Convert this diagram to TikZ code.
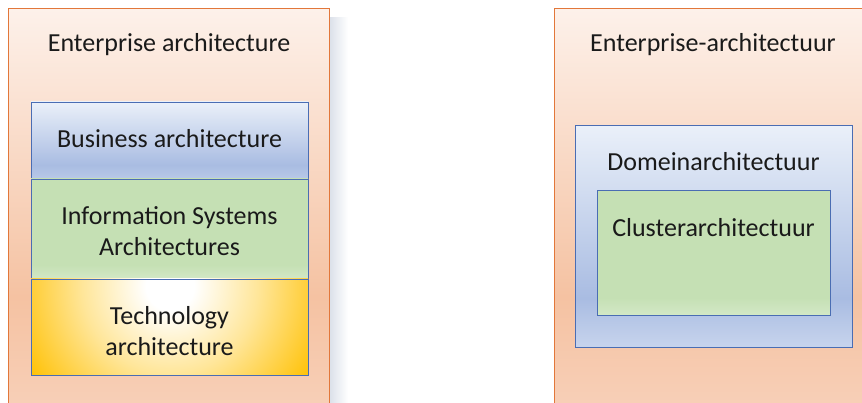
\documentclass[tikz,border=0pt]{standalone}
\usepackage{fontspec}
\setmainfont{Carlito}
\definecolor{ink}{HTML}{1A1A1A}
\definecolor{peachtop}{HTML}{FDF1EA}
\definecolor{peachmid}{HTML}{F5C2A2}
\definecolor{peachbot}{HTML}{F8D1BA}
\definecolor{orangeline}{HTML}{E2773A}
\definecolor{blueline}{HTML}{4A6DB3}
\definecolor{bluetop}{HTML}{EAF0F9}
\definecolor{bluemid}{HTML}{A9BCE2}
\definecolor{bluebot}{HTML}{B9C9E8}
\definecolor{greenfill}{HTML}{C5E0B4}
\definecolor{greenlight}{HTML}{D3E8C6}
\definecolor{gold}{HTML}{FFC000}
\definecolor{shadowgray}{HTML}{DCE1EA}

% vertical shadings: 25bp = bottom of the shape, 75bp = top
\pgfdeclareverticalshading{peachfill}{100bp}{color(0bp)=(peachbot); color(25bp)=(peachbot);
  color(40bp)=(peachmid); color(75bp)=(peachtop); color(100bp)=(peachtop)}
\pgfdeclareverticalshading{businessfill}{100bp}{color(0bp)=(bluebot); color(25bp)=(bluebot);
  color(34bp)=(bluemid); color(75bp)=(bluetop); color(100bp)=(bluetop)}
\pgfdeclareverticalshading{domainfill}{100bp}{color(0bp)=(bluebot!80!white); color(25bp)=(bluebot!80!white);
  color(36bp)=(bluemid); color(75bp)=(bluetop); color(100bp)=(bluetop)}
\pgfdeclareverticalshading{greenfill}{100bp}{color(0bp)=(greenlight); color(25bp)=(greenlight);
  color(32bp)=(greenfill); color(75bp)=(greenfill); color(100bp)=(greenfill)}
% radial glow, white in the middle fading to gold
\pgfdeclareradialshading{techglow}{\pgfpoint{0bp}{0bp}}{color(0bp)=(white); color(3bp)=(white);
  color(11bp)=(gold!40!white); color(21bp)=(gold); color(50bp)=(gold)}

\tikzset{
  label text/.style={text=ink, font=\fontsize{26}{31}\selectfont, align=center, inner sep=0pt},
  outerbox/.style={draw=orangeline, line width=1pt, shading=peachfill},
  layerbox/.style={draw=blueline, line width=0.8pt},
}

\begin{document}
\begin{tikzpicture}[x=1pt, y=-1pt]
  \useasboundingbox (0,0) rectangle (862,403);
  \clip (0,0) rectangle (862,403);
  \fill[white] (0,0) rectangle (862,403);

  % soft shadow on the right of the left panel
  \shade[left color=shadowgray, right color=white] (330,18) rectangle (348,410);

  % left panel: TOGAF layers
  \draw[outerbox] (8.5,8.5) rectangle (329.5,420);
  \node[label text] (ea) at (169,45) {Enterprise architecture};

  \draw[layerbox, shading=businessfill] (31,102) rectangle (308,179);
  \node[label text] (ba) at (169.5,139) {Business architecture};

  \draw[layerbox, shading=greenfill] (31,179) rectangle (308,279);
  \node[label text] (isa) at (169.5,231) {Information Systems\\Architectures};

  \begin{scope}
    \clip (31,279) rectangle (308,375);
    \shade[shading=techglow] (170,286) circle (200);
  \end{scope}
  \draw[layerbox] (31,279) rectangle (308,375);
  \node[label text] (ta) at (169.5,331) {Technology\\architecture};

  % right panel: nested architectures
  \draw[outerbox] (554.5,8.5) rectangle (874,420);
  \node[label text] (eaa) at (713,45) {Enterprise-architectuur};

  \draw[layerbox, shading=domainfill] (575.5,125.5) rectangle (852,347);
  \node[label text] (dom) at (713.5,162) {Domeinarchitectuur};

  \draw[layerbox, shading=greenfill] (597.5,190.5) rectangle (830,315);
  \node[label text] (clu) at (713.5,228) {Clusterarchitectuur};
\end{tikzpicture}
\end{document}
